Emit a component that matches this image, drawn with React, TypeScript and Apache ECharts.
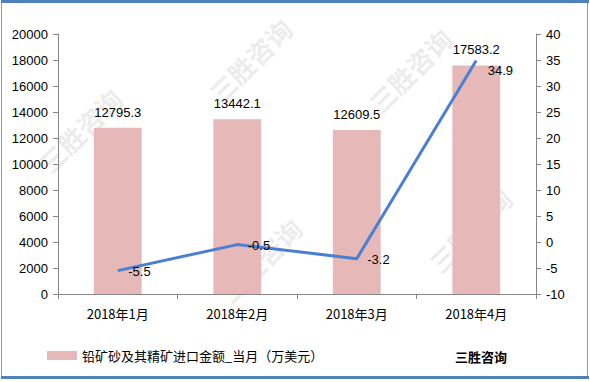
import React, { useEffect, useRef } from "react";
import * as echarts from "echarts";

const categories = ["2018年1月", "2018年2月", "2018年3月", "2018年4月"];
const amountValues = [12795.3, 13442.1, 12609.5, 17583.2];
const growthValues = [-5.5, -0.5, -3.2, 34.9];
const barName = "铅矿砂及其精矿进口金额_当月（万美元）";
const lineName = "同比增长（%）";
const brand = "三胜咨询";

const FONT = "'Noto Sans CJK SC', 'DejaVu Sans', sans-serif";
const NUMFONT = "'Liberation Sans', 'DejaVu Sans', sans-serif";

export default function App() {
  const ref = useRef<HTMLDivElement>(null);
  useEffect(() => {
    if (!ref.current) return;
    const chart = echarts.init(ref.current, undefined, { renderer: "svg" });
    const wm = (x: number, y: number) => ({
      type: "text",
      x,
      y,
      rotation: Math.PI / 4,
      z: -1,
      style: {
        text: brand,
        fill: "rgba(190,190,190,0.3)",
        font: `bold 26px ${FONT}`,
        align: "center",
        verticalAlign: "middle",
      },
    });
    chart.setOption({
      animation: false,
      textStyle: { fontFamily: FONT },
      grid: { left: 58, right: 54, top: 34, bottom: 88, containLabel: false },
      legend: {
        data: [barName],
        left: 42,
        top: 344,
        itemWidth: 30,
        itemHeight: 9,
        itemGap: 4,
        textStyle: { fontSize: 13, color: "#000", fontFamily: FONT },
        icon: "rect",
      },
      xAxis: {
        type: "category",
        data: categories,
        boundaryGap: true,
        axisLine: { lineStyle: { color: "#868686" } },
        axisTick: { show: true, alignWithLabel: false, length: 5, lineStyle: { color: "#868686" } },
        axisLabel: { color: "#000", fontSize: 13, margin: 13, fontFamily: FONT },
      },
      yAxis: [
        {
          type: "value",
          min: 0,
          max: 20000,
          interval: 2000,
          axisLine: { show: true, lineStyle: { color: "#868686" } },
          axisTick: { show: true, length: 5, lineStyle: { color: "#868686" } },
          splitLine: { show: false },
          axisLabel: {
            color: "#000",
            fontSize: 13,
            margin: 10,
            fontFamily: NUMFONT,
            formatter: (v: number) => String(v),
          },
        },
        {
          type: "value",
          min: -10,
          max: 40,
          interval: 5,
          position: "right",
          axisLine: { show: true, lineStyle: { color: "#868686" } },
          axisTick: { show: true, length: 5, lineStyle: { color: "#868686" } },
          splitLine: { show: false },
          axisLabel: {
            color: "#000",
            fontSize: 13,
            margin: 10,
            fontFamily: NUMFONT,
            formatter: (v: number) => String(v),
          },
        },
      ],
      series: [
        {
          name: barName,
          type: "bar",
          data: amountValues,
          barWidth: "40%",
          itemStyle: { color: "#E6B9B8" },
          label: {
            show: true,
            position: "top",
            distance: 9,
            color: "#000",
            fontSize: 13,
            fontFamily: NUMFONT,
          },
        },
        {
          name: lineName,
          type: "line",
          yAxisIndex: 1,
          data: growthValues,
          symbol: "circle",
          symbolSize: 1,
          showSymbol: true,
          itemStyle: { color: "rgba(0,0,0,0)" },
          lineStyle: { color: "#4A7FD2", width: 3 },
          labelLayout: (p: any) =>
            p.dataIndex === growthValues.length - 1
              ? { dx: 1, dy: 10, hideOverlap: false }
              : { dy: 1, hideOverlap: false },
          label: {
            show: true,
            position: "right",
            distance: 10,
            color: "#000",
            fontSize: 13,
            fontFamily: NUMFONT,
          },
        },
      ],
      graphic: [
        wm(80, 130),
        wm(250, 60),
        wm(410, 70),
        wm(260, 260),
        wm(470, 230),
        {
          type: "rect",
          shape: { x: 1.5, y: 1.5, width: 586, height: 376 },
          style: { fill: "none", stroke: "#9a9a9a", lineWidth: 1 },
        },
        {
          type: "rect",
          shape: { x: 1, y: 0, width: 588, height: 3 },
          style: { fill: "#4F81BD" },
        },
        {
          type: "rect",
          shape: { x: 1, y: 376, width: 588, height: 3 },
          style: { fill: "#4F81BD" },
        },
        {
          type: "text",
          x: 455,
          y: 350,
          style: { text: brand, font: `bold 13px ${FONT}`, fill: "#000" },
        },
      ],
    });
    return () => chart.dispose();
  }, []);
  return (
    <div
      ref={ref}
      style={{ position: "absolute", left: 0, top: 0, width: 590, height: 382, background: "#fff" }}
    />
  );
}
